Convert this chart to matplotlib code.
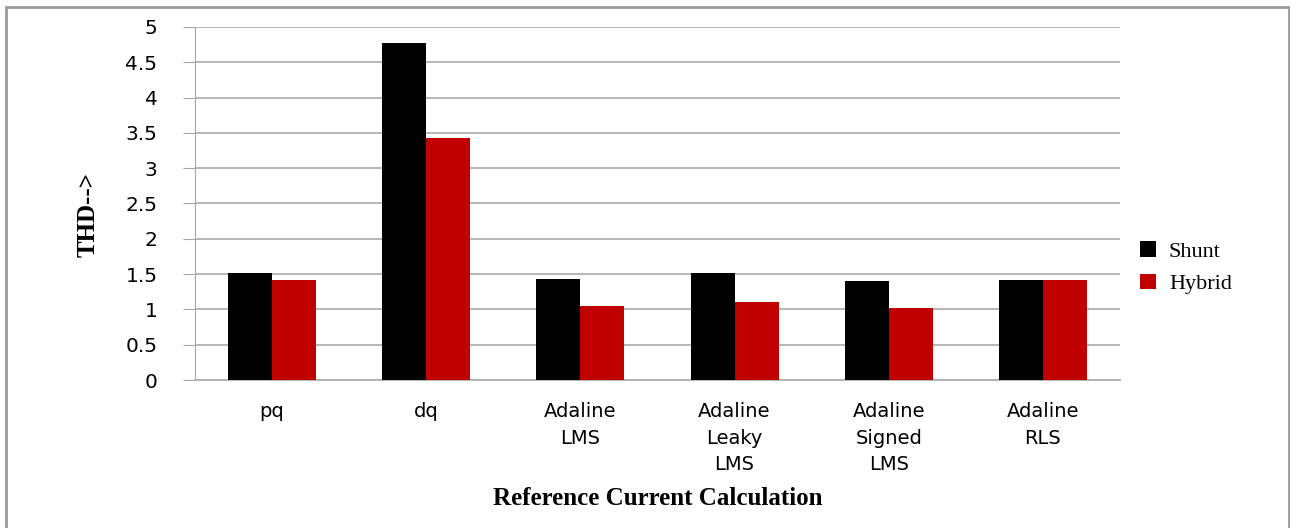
import matplotlib.pyplot as plt
import numpy as np
from matplotlib.patches import Rectangle

categories = ["pq", "dq", "Adaline\nLMS", "Adaline\nLeaky\nLMS", "Adaline\nSigned\nLMS", "Adaline\nRLS"]
shunt = [1.51, 4.77, 1.43, 1.52, 1.40, 1.42]
hybrid = [1.42, 3.43, 1.05, 1.10, 1.02, 1.42]
yticks = [0, 0.5, 1, 1.5, 2, 2.5, 3, 3.5, 4, 4.5, 5]

fig = plt.figure(figsize=(12.9, 5.28), dpi=100)
ax = fig.add_axes([195 / 1290, 1 - 380 / 528, (1120 - 195) / 1290, (380 - 27) / 528])

x = np.arange(len(categories))
w = 0.285
ax.bar(x - w / 2, shunt, w, color="black", label="Shunt", zorder=3)
ax.bar(x + w / 2, hybrid, w, color="#c00000", label="Hybrid", zorder=3)

ax.set_xlim(-0.5, len(categories) - 0.5)
ax.set_ylim(0, 5)
ax.set_yticks(yticks)
ax.set_yticklabels([f"{v:g}" for v in yticks], fontsize=14.5)
ax.set_xticks(x)
ax.set_xticklabels(categories, fontsize=14, linespacing=1.5, va="top")
ax.tick_params(axis="x", length=0, pad=16)
ax.tick_params(axis="y", length=9, color="#a6a6a6", pad=18)
ax.grid(axis="y", color="#b0b0b0", linewidth=1.3, zorder=0)

for s in ["top", "right"]:
    ax.spines[s].set_visible(False)
ax.spines["left"].set_color("#a6a6a6")
ax.spines["bottom"].set_color("#b0b0b0")
ax.spines["bottom"].set_linewidth(1.3)

ax.set_ylabel("THD-->", fontsize=18, fontweight="bold", family="Liberation Serif")
ax.yaxis.set_label_coords(-95 / 925, 0.47)
ax.set_xlabel("Reference Current Calculation", fontsize=18, fontweight="bold",
              family="Liberation Serif", labelpad=9)

leg = ax.legend(loc="center left", bbox_to_anchor=(1.0, 0.318), frameon=False,
                prop={"family": "Liberation Serif", "size": 16},
                handlelength=0.7, handleheight=0.7, handletextpad=0.6, labelspacing=0.55)

fig.patches.append(Rectangle((6 / 1290, -0.05), (1289 - 6) / 1290, 1.05 - 7 / 528,
                             transform=fig.transFigure, fill=False,
                             edgecolor="#9a9a9a", linewidth=2))

fig.savefig("out.png", dpi=100)
